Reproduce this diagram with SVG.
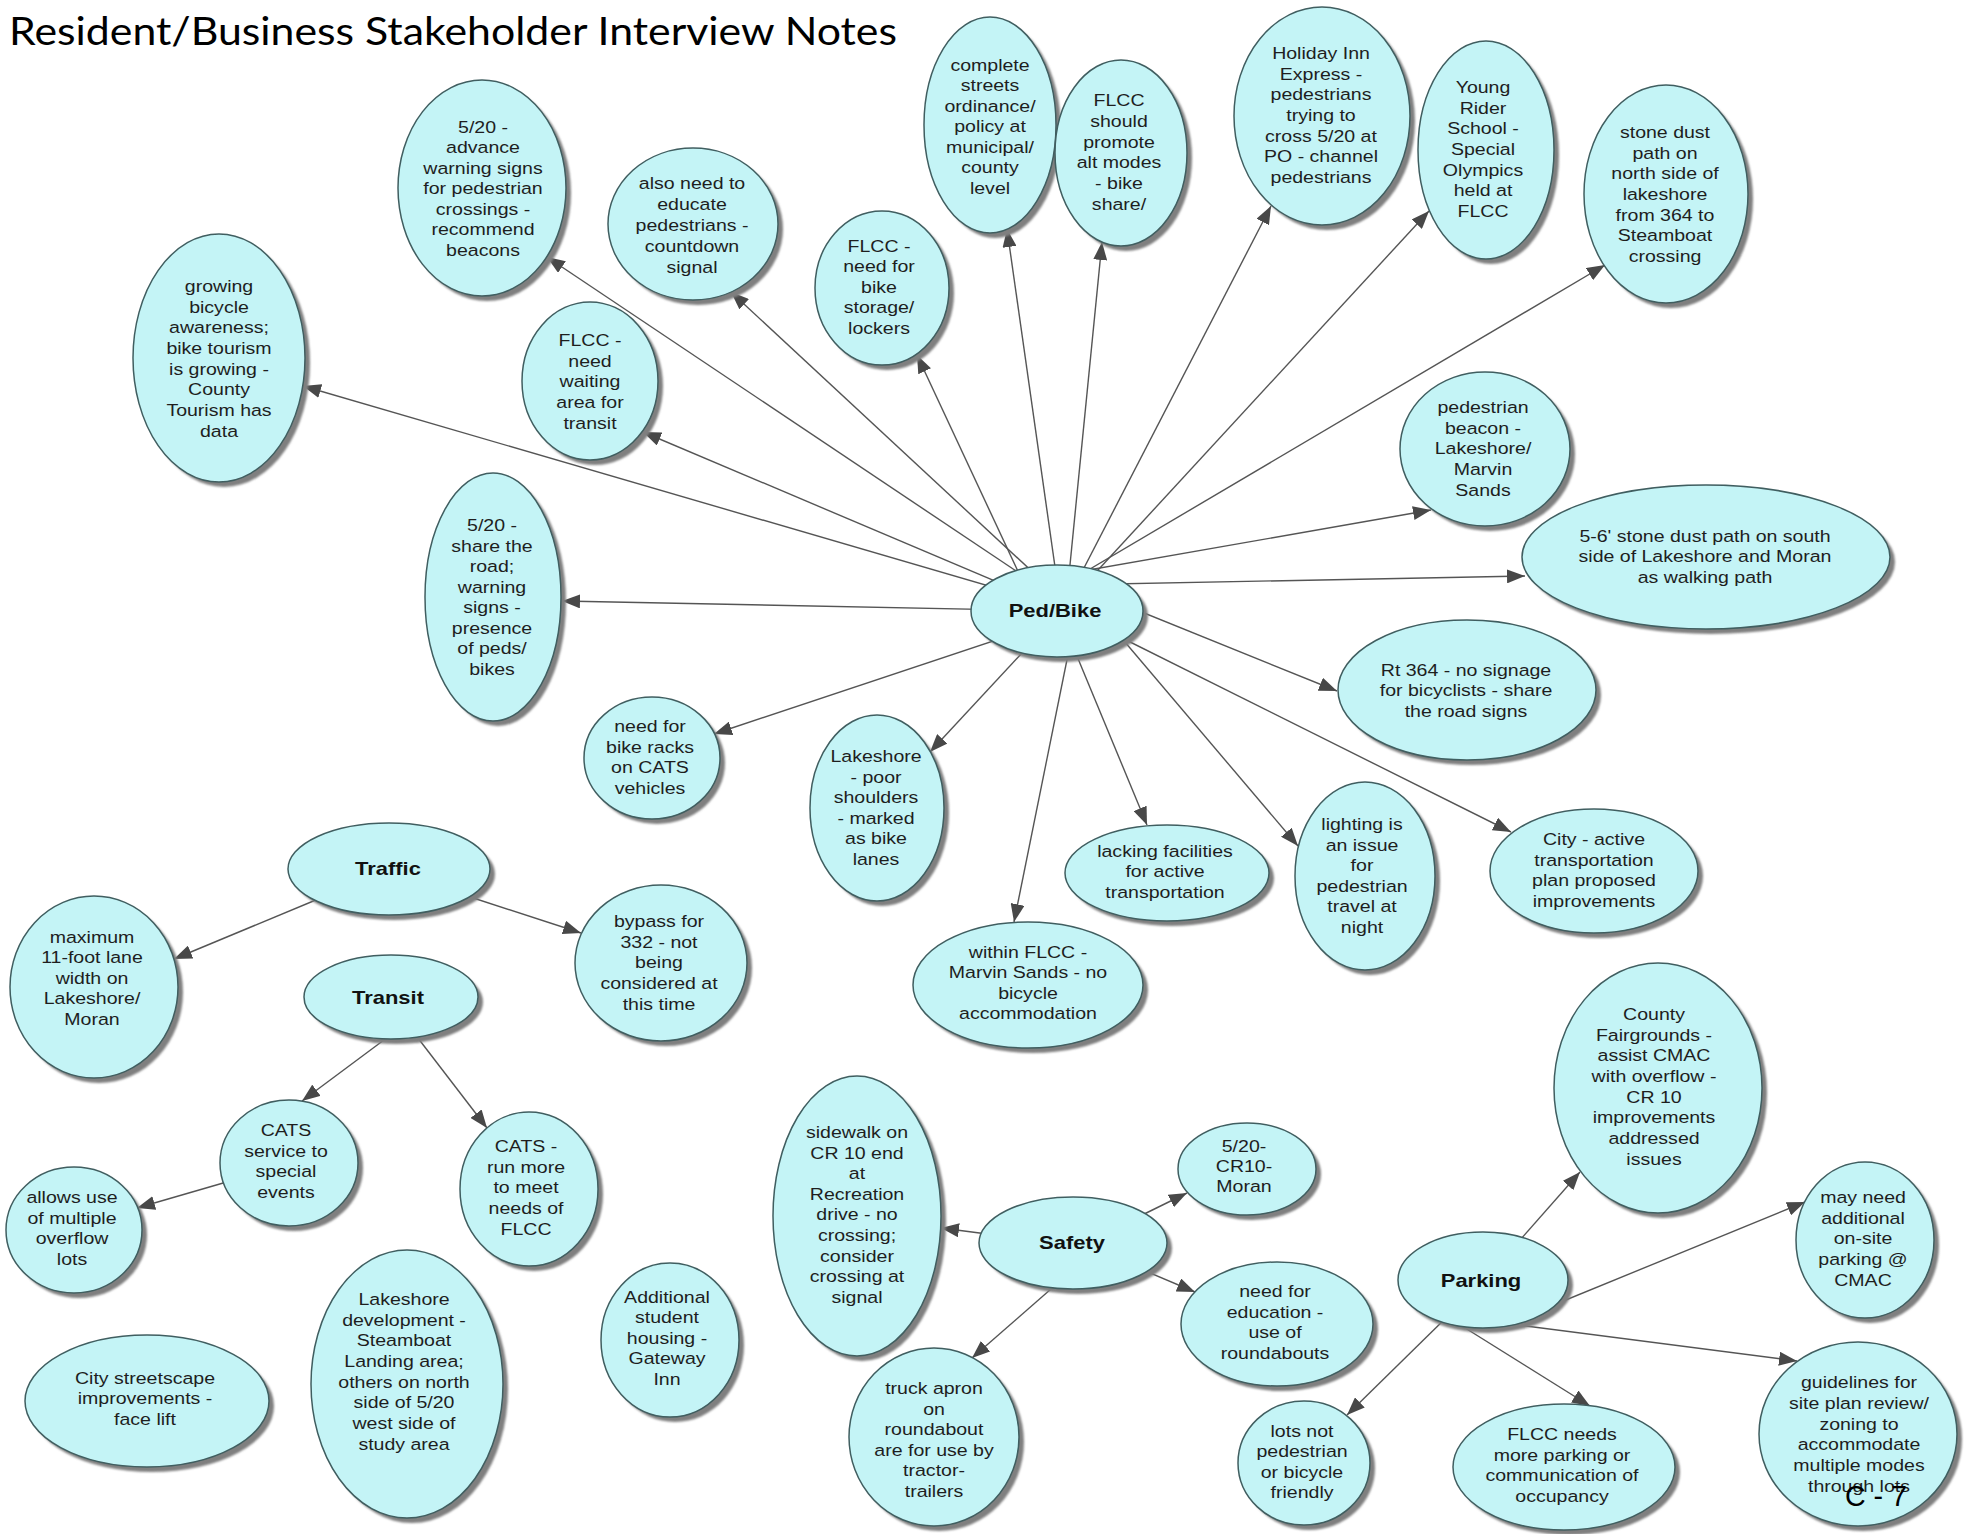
<svg xmlns="http://www.w3.org/2000/svg" width="1965" height="1534" viewBox="0 0 1965 1534">
<defs>
<filter id="blur" x="-10%" y="-10%" width="120%" height="120%"><feGaussianBlur stdDeviation="1.3"/></filter>
<marker id="ah" markerUnits="userSpaceOnUse" markerWidth="18" markerHeight="14" refX="18" refY="7" orient="auto" viewBox="0 0 18 14"><path d="M0,0 L18,7 L0,14 Z" fill="#484848"/></marker>
</defs>
<style>
.sh{fill:#7f7f7f;filter:url(#blur);transform:translate(1px,1px)}
.nd{fill:#c4f4f6;stroke:#405e60;stroke-width:1.5}
.t{font-family:"Liberation Sans",Arial,sans-serif;font-size:17px;fill:#1e1e1e;text-anchor:middle}
.b{font-weight:bold;font-size:18px;fill:#111}
.ln{stroke:#555;stroke-width:1.4;fill:none;marker-end:url(#ah)}
</style>
<rect width="1965" height="1534" fill="#ffffff"/>
<text x="9" y="45" font-family="Lato, 'Open Sans', sans-serif" font-size="39" textLength="888" lengthAdjust="spacingAndGlyphs" fill="#000">Resident/Business Stakeholder Interview Notes</text>

<g id="connectors">
<line class="ln" x1="1040" y1="587" x2="547" y2="257"/>
<line class="ln" x1="1052" y1="590" x2="731" y2="292"/>
<line class="ln" x1="1030" y1="598" x2="303" y2="386"/>
<line class="ln" x1="1040" y1="600" x2="643" y2="432"/>
<line class="ln" x1="1029" y1="595" x2="917" y2="355"/>
<line class="ln" x1="1059" y1="595" x2="1007" y2="229"/>
<line class="ln" x1="1067" y1="595" x2="1102" y2="242"/>
<line class="ln" x1="1070" y1="595" x2="1271" y2="206"/>
<line class="ln" x1="1075" y1="595" x2="1429" y2="211"/>
<line class="ln" x1="1046" y1="595" x2="1605" y2="265"/>
<line class="ln" x1="1060" y1="575" x2="1431" y2="510"/>
<line class="ln" x1="1060" y1="585" x2="1525" y2="576"/>
<line class="ln" x1="1060" y1="611" x2="562" y2="601"/>
<line class="ln" x1="1070" y1="583" x2="1337" y2="691"/>
<line class="ln" x1="1050" y1="622" x2="714" y2="734"/>
<line class="ln" x1="1048" y1="625" x2="930" y2="752"/>
<line class="ln" x1="1062" y1="620" x2="1147" y2="825"/>
<line class="ln" x1="1102" y1="615" x2="1298" y2="846"/>
<line class="ln" x1="1100" y1="627" x2="1511" y2="832"/>
<line class="ln" x1="1074" y1="625" x2="1014" y2="922"/>
<line class="ln" x1="323" y1="897" x2="174" y2="959"/>
<line class="ln" x1="458" y1="893" x2="581" y2="933"/>
<line class="ln" x1="392" y1="1034" x2="302" y2="1101"/>
<line class="ln" x1="411" y1="1029" x2="487" y2="1128"/>
<line class="ln" x1="237" y1="1179" x2="137" y2="1208"/>
<line class="ln" x1="995" y1="1235" x2="941" y2="1228"/>
<line class="ln" x1="1132" y1="1220" x2="1187" y2="1193"/>
<line class="ln" x1="1136" y1="1267" x2="1195" y2="1292"/>
<line class="ln" x1="1059" y1="1282" x2="972" y2="1358"/>
<line class="ln" x1="1513" y1="1248" x2="1580" y2="1172"/>
<line class="ln" x1="1534" y1="1313" x2="1805" y2="1202"/>
<line class="ln" x1="1451" y1="1313" x2="1347" y2="1415"/>
<line class="ln" x1="1454" y1="1321" x2="1590" y2="1406"/>
<line class="ln" x1="1510" y1="1324" x2="1797" y2="1361"/>
</g>

<g id="n-pedbike"><ellipse class="sh" cx="1061" cy="615" rx="86" ry="46"/><ellipse class="nd" cx="1057" cy="611" rx="86" ry="46"/><text class="t b" transform="translate(1055 0) scale(1.22 1)"><tspan x="0" y="617">Ped/Bike</tspan></text></g>

<g id="n-advance"><ellipse class="sh" cx="486" cy="192" rx="84" ry="108"/><ellipse class="nd" cx="482" cy="188" rx="84" ry="108"/><text class="t" transform="translate(483 0) scale(1.15 1)"><tspan x="0" y="133">5/20 -</tspan><tspan x="0" y="153.5">advance</tspan><tspan x="0" y="174">warning signs</tspan><tspan x="0" y="194.5">for pedestrian</tspan><tspan x="0" y="215">crossings -</tspan><tspan x="0" y="235.5">recommend</tspan><tspan x="0" y="256">beacons</tspan></text></g>

<g id="n-educate"><ellipse class="sh" cx="697" cy="228" rx="85" ry="76"/><ellipse class="nd" cx="693" cy="224" rx="85" ry="76"/><text class="t" transform="translate(692 0) scale(1.15 1)"><tspan x="0" y="189">also need to</tspan><tspan x="0" y="210">educate</tspan><tspan x="0" y="231">pedestrians -</tspan><tspan x="0" y="252">countdown</tspan><tspan x="0" y="273">signal</tspan></text></g>

<g id="n-growing"><ellipse class="sh" cx="223" cy="362" rx="86" ry="124"/><ellipse class="nd" cx="219" cy="358" rx="86" ry="124"/><text class="t" transform="translate(219 0) scale(1.15 1)"><tspan x="0" y="292">growing</tspan><tspan x="0" y="312.7">bicycle</tspan><tspan x="0" y="333.4">awareness;</tspan><tspan x="0" y="354.1">bike tourism</tspan><tspan x="0" y="374.8">is growing -</tspan><tspan x="0" y="395.5">County</tspan><tspan x="0" y="416.2">Tourism has</tspan><tspan x="0" y="437">data</tspan></text></g>

<g id="n-waiting"><ellipse class="sh" cx="594" cy="385" rx="68" ry="79"/><ellipse class="nd" cx="590" cy="381" rx="68" ry="79"/><text class="t" transform="translate(590 0) scale(1.15 1)"><tspan x="0" y="346">FLCC -</tspan><tspan x="0" y="366.8">need</tspan><tspan x="0" y="387.5">waiting</tspan><tspan x="0" y="408.3">area for</tspan><tspan x="0" y="429">transit</tspan></text></g>

<g id="n-storage"><ellipse class="sh" cx="886" cy="292" rx="67" ry="77"/><ellipse class="nd" cx="882" cy="288" rx="67" ry="77"/><text class="t" transform="translate(879 0) scale(1.15 1)"><tspan x="0" y="252">FLCC -</tspan><tspan x="0" y="272.5">need for</tspan><tspan x="0" y="293">bike</tspan><tspan x="0" y="313.5">storage/</tspan><tspan x="0" y="334">lockers</tspan></text></g>

<g id="n-complete"><ellipse class="sh" cx="994" cy="129" rx="66" ry="108"/><ellipse class="nd" cx="990" cy="125" rx="66" ry="108"/><text class="t" transform="translate(990 0) scale(1.15 1)"><tspan x="0" y="71">complete</tspan><tspan x="0" y="91.5">streets</tspan><tspan x="0" y="112">ordinance/</tspan><tspan x="0" y="132.5">policy at</tspan><tspan x="0" y="153">municipal/</tspan><tspan x="0" y="173.5">county</tspan><tspan x="0" y="194">level</tspan></text></g>

<g id="n-promote"><ellipse class="sh" cx="1125" cy="157" rx="66" ry="93"/><ellipse class="nd" cx="1121" cy="153" rx="66" ry="93"/><text class="t" transform="translate(1119 0) scale(1.15 1)"><tspan x="0" y="106">FLCC</tspan><tspan x="0" y="126.8">should</tspan><tspan x="0" y="147.6">promote</tspan><tspan x="0" y="168.4">alt modes</tspan><tspan x="0" y="189.2">- bike</tspan><tspan x="0" y="210">share/</tspan></text></g>

<g id="n-holiday"><ellipse class="sh" cx="1326" cy="120" rx="88" ry="109"/><ellipse class="nd" cx="1322" cy="116" rx="88" ry="109"/><text class="t" transform="translate(1321 0) scale(1.15 1)"><tspan x="0" y="59">Holiday Inn</tspan><tspan x="0" y="79.7">Express -</tspan><tspan x="0" y="100.3">pedestrians</tspan><tspan x="0" y="121">trying to</tspan><tspan x="0" y="141.7">cross 5/20 at</tspan><tspan x="0" y="162.3">PO - channel</tspan><tspan x="0" y="183">pedestrians</tspan></text></g>

<g id="n-young"><ellipse class="sh" cx="1490" cy="154" rx="68" ry="109"/><ellipse class="nd" cx="1486" cy="150" rx="68" ry="109"/><text class="t" transform="translate(1483 0) scale(1.15 1)"><tspan x="0" y="93">Young</tspan><tspan x="0" y="113.7">Rider</tspan><tspan x="0" y="134.3">School -</tspan><tspan x="0" y="155">Special</tspan><tspan x="0" y="175.7">Olympics</tspan><tspan x="0" y="196.3">held at</tspan><tspan x="0" y="217">FLCC</tspan></text></g>

<g id="n-dustnorth"><ellipse class="sh" cx="1670" cy="198" rx="82" ry="109"/><ellipse class="nd" cx="1666" cy="194" rx="82" ry="109"/><text class="t" transform="translate(1665 0) scale(1.15 1)"><tspan x="0" y="138">stone dust</tspan><tspan x="0" y="158.7">path on</tspan><tspan x="0" y="179.3">north side of</tspan><tspan x="0" y="200">lakeshore</tspan><tspan x="0" y="220.7">from 364 to</tspan><tspan x="0" y="241.3">Steamboat</tspan><tspan x="0" y="262">crossing</tspan></text></g>

<g id="n-beacon"><ellipse class="sh" cx="1489" cy="453" rx="85" ry="77"/><ellipse class="nd" cx="1485" cy="449" rx="85" ry="77"/><text class="t" transform="translate(1483 0) scale(1.15 1)"><tspan x="0" y="413">pedestrian</tspan><tspan x="0" y="433.8">beacon -</tspan><tspan x="0" y="454.5">Lakeshore/</tspan><tspan x="0" y="475.3">Marvin</tspan><tspan x="0" y="496">Sands</tspan></text></g>

<g id="n-dustsouth"><ellipse class="sh" cx="1710" cy="561" rx="184" ry="72"/><ellipse class="nd" cx="1706" cy="557" rx="184" ry="72"/><text class="t" transform="translate(1705 0) scale(1.15 1)"><tspan x="0" y="542">5-6' stone dust path on south</tspan><tspan x="0" y="562.5">side of Lakeshore and Moran</tspan><tspan x="0" y="583">as walking path</tspan></text></g>

<g id="n-share"><ellipse class="sh" cx="497" cy="601" rx="68" ry="124"/><ellipse class="nd" cx="493" cy="597" rx="68" ry="124"/><text class="t" transform="translate(492 0) scale(1.15 1)"><tspan x="0" y="531">5/20 -</tspan><tspan x="0" y="551.6">share the</tspan><tspan x="0" y="572.1">road;</tspan><tspan x="0" y="592.7">warning</tspan><tspan x="0" y="613.3">signs -</tspan><tspan x="0" y="633.9">presence</tspan><tspan x="0" y="654.4">of peds/</tspan><tspan x="0" y="675">bikes</tspan></text></g>

<g id="n-rt364"><ellipse class="sh" cx="1471" cy="694" rx="129" ry="70"/><ellipse class="nd" cx="1467" cy="690" rx="129" ry="70"/><text class="t" transform="translate(1466 0) scale(1.15 1)"><tspan x="0" y="676">Rt 364 - no signage</tspan><tspan x="0" y="696.5">for bicyclists - share</tspan><tspan x="0" y="717">the road signs</tspan></text></g>

<g id="n-racks"><ellipse class="sh" cx="656" cy="762" rx="68" ry="61"/><ellipse class="nd" cx="652" cy="758" rx="68" ry="61"/><text class="t" transform="translate(650 0) scale(1.15 1)"><tspan x="0" y="732">need for</tspan><tspan x="0" y="752.7">bike racks</tspan><tspan x="0" y="773.3">on CATS</tspan><tspan x="0" y="794">vehicles</tspan></text></g>

<g id="n-shoulders"><ellipse class="sh" cx="881" cy="812" rx="67" ry="93"/><ellipse class="nd" cx="877" cy="808" rx="67" ry="93"/><text class="t" transform="translate(876 0) scale(1.15 1)"><tspan x="0" y="762">Lakeshore</tspan><tspan x="0" y="782.6">- poor</tspan><tspan x="0" y="803.2">shoulders</tspan><tspan x="0" y="823.8">- marked</tspan><tspan x="0" y="844.4">as bike</tspan><tspan x="0" y="865">lanes</tspan></text></g>

<g id="n-lacking"><ellipse class="sh" cx="1171" cy="877" rx="102" ry="48"/><ellipse class="nd" cx="1167" cy="873" rx="102" ry="48"/><text class="t" transform="translate(1165 0) scale(1.15 1)"><tspan x="0" y="857">lacking facilities</tspan><tspan x="0" y="877.5">for active</tspan><tspan x="0" y="898">transportation</tspan></text></g>

<g id="n-lighting"><ellipse class="sh" cx="1369" cy="880" rx="70" ry="94"/><ellipse class="nd" cx="1365" cy="876" rx="70" ry="94"/><text class="t" transform="translate(1362 0) scale(1.15 1)"><tspan x="0" y="830">lighting is</tspan><tspan x="0" y="850.6">an issue</tspan><tspan x="0" y="871.2">for</tspan><tspan x="0" y="891.8">pedestrian</tspan><tspan x="0" y="912.4">travel at</tspan><tspan x="0" y="933">night</tspan></text></g>

<g id="n-cityplan"><ellipse class="sh" cx="1598" cy="875" rx="104" ry="62"/><ellipse class="nd" cx="1594" cy="871" rx="104" ry="62"/><text class="t" transform="translate(1594 0) scale(1.15 1)"><tspan x="0" y="845">City - active</tspan><tspan x="0" y="865.7">transportation</tspan><tspan x="0" y="886.3">plan proposed</tspan><tspan x="0" y="907">improvements</tspan></text></g>

<g id="n-within"><ellipse class="sh" cx="1032" cy="989" rx="115" ry="63"/><ellipse class="nd" cx="1028" cy="985" rx="115" ry="63"/><text class="t" transform="translate(1028 0) scale(1.15 1)"><tspan x="0" y="958">within FLCC -</tspan><tspan x="0" y="978.3">Marvin Sands - no</tspan><tspan x="0" y="998.7">bicycle</tspan><tspan x="0" y="1019">accommodation</tspan></text></g>

<g id="n-traffic"><ellipse class="sh" cx="393" cy="873" rx="101" ry="46"/><ellipse class="nd" cx="389" cy="869" rx="101" ry="46"/><text class="t b" transform="translate(388 0) scale(1.22 1)"><tspan x="0" y="875">Traffic</tspan></text></g>

<g id="n-maxlane"><ellipse class="sh" cx="98" cy="991" rx="84" ry="91"/><ellipse class="nd" cx="94" cy="987" rx="84" ry="91"/><text class="t" transform="translate(92 0) scale(1.15 1)"><tspan x="0" y="943">maximum</tspan><tspan x="0" y="963.5">11-foot lane</tspan><tspan x="0" y="984">width on</tspan><tspan x="0" y="1004.5">Lakeshore/</tspan><tspan x="0" y="1025">Moran</tspan></text></g>

<g id="n-bypass"><ellipse class="sh" cx="665" cy="967" rx="86" ry="78"/><ellipse class="nd" cx="661" cy="963" rx="86" ry="78"/><text class="t" transform="translate(659 0) scale(1.15 1)"><tspan x="0" y="927">bypass for</tspan><tspan x="0" y="947.8">332 - not</tspan><tspan x="0" y="968.5">being</tspan><tspan x="0" y="989.3">considered at</tspan><tspan x="0" y="1010">this time</tspan></text></g>

<g id="n-transit"><ellipse class="sh" cx="395" cy="1001" rx="87" ry="42"/><ellipse class="nd" cx="391" cy="997" rx="87" ry="42"/><text class="t b" transform="translate(388 0) scale(1.22 1)"><tspan x="0" y="1004">Transit</tspan></text></g>

<g id="n-cats-events"><ellipse class="sh" cx="293" cy="1167" rx="69" ry="63"/><ellipse class="nd" cx="289" cy="1163" rx="69" ry="63"/><text class="t" transform="translate(286 0) scale(1.15 1)"><tspan x="0" y="1136">CATS</tspan><tspan x="0" y="1156.7">service to</tspan><tspan x="0" y="1177.3">special</tspan><tspan x="0" y="1198">events</tspan></text></g>

<g id="n-cats-more"><ellipse class="sh" cx="533" cy="1193" rx="69" ry="77"/><ellipse class="nd" cx="529" cy="1189" rx="69" ry="77"/><text class="t" transform="translate(526 0) scale(1.15 1)"><tspan x="0" y="1152">CATS -</tspan><tspan x="0" y="1172.8">run more</tspan><tspan x="0" y="1193.5">to meet</tspan><tspan x="0" y="1214.3">needs of</tspan><tspan x="0" y="1235">FLCC</tspan></text></g>

<g id="n-allows"><ellipse class="sh" cx="78" cy="1234" rx="68" ry="63"/><ellipse class="nd" cx="74" cy="1230" rx="68" ry="63"/><text class="t" transform="translate(72 0) scale(1.15 1)"><tspan x="0" y="1203">allows use</tspan><tspan x="0" y="1223.7">of multiple</tspan><tspan x="0" y="1244.3">overflow</tspan><tspan x="0" y="1265">lots</tspan></text></g>

<g id="n-streetscape"><ellipse class="sh" cx="151" cy="1405" rx="122" ry="66"/><ellipse class="nd" cx="147" cy="1401" rx="122" ry="66"/><text class="t" transform="translate(145 0) scale(1.15 1)"><tspan x="0" y="1384">City streetscape</tspan><tspan x="0" y="1404.5">improvements -</tspan><tspan x="0" y="1425">face lift</tspan></text></g>

<g id="n-lakedev"><ellipse class="sh" cx="411" cy="1388" rx="96" ry="134"/><ellipse class="nd" cx="407" cy="1384" rx="96" ry="134"/><text class="t" transform="translate(404 0) scale(1.15 1)"><tspan x="0" y="1305">Lakeshore</tspan><tspan x="0" y="1325.7">development -</tspan><tspan x="0" y="1346.4">Steamboat</tspan><tspan x="0" y="1367.1">Landing area;</tspan><tspan x="0" y="1387.8">others on north</tspan><tspan x="0" y="1408.5">side of 5/20</tspan><tspan x="0" y="1429.2">west side of</tspan><tspan x="0" y="1450">study area</tspan></text></g>

<g id="n-housing"><ellipse class="sh" cx="674" cy="1344" rx="69" ry="77"/><ellipse class="nd" cx="670" cy="1340" rx="69" ry="77"/><text class="t" transform="translate(667 0) scale(1.15 1)"><tspan x="0" y="1303">Additional</tspan><tspan x="0" y="1323.5">student</tspan><tspan x="0" y="1344">housing -</tspan><tspan x="0" y="1364.5">Gateway</tspan><tspan x="0" y="1385">Inn</tspan></text></g>

<g id="n-safety"><ellipse class="sh" cx="1077" cy="1247" rx="94" ry="46"/><ellipse class="nd" cx="1073" cy="1243" rx="94" ry="46"/><text class="t b" transform="translate(1072 0) scale(1.22 1)"><tspan x="0" y="1249">Safety</tspan></text></g>

<g id="n-sidewalk"><ellipse class="sh" cx="861" cy="1220" rx="84" ry="140"/><ellipse class="nd" cx="857" cy="1216" rx="84" ry="140"/><text class="t" transform="translate(857 0) scale(1.15 1)"><tspan x="0" y="1138">sidewalk on</tspan><tspan x="0" y="1158.6">CR 10 end</tspan><tspan x="0" y="1179.3">at</tspan><tspan x="0" y="1199.9">Recreation</tspan><tspan x="0" y="1220.5">drive - no</tspan><tspan x="0" y="1241.1">crossing;</tspan><tspan x="0" y="1261.8">consider</tspan><tspan x="0" y="1282.4">crossing at</tspan><tspan x="0" y="1303">signal</tspan></text></g>

<g id="n-truck"><ellipse class="sh" cx="938" cy="1441" rx="85" ry="89"/><ellipse class="nd" cx="934" cy="1437" rx="85" ry="89"/><text class="t" transform="translate(934 0) scale(1.15 1)"><tspan x="0" y="1394">truck apron</tspan><tspan x="0" y="1414.6">on</tspan><tspan x="0" y="1435.2">roundabout</tspan><tspan x="0" y="1455.8">are for use by</tspan><tspan x="0" y="1476.4">tractor-</tspan><tspan x="0" y="1497">trailers</tspan></text></g>

<g id="n-moran"><ellipse class="sh" cx="1251" cy="1173" rx="69" ry="46"/><ellipse class="nd" cx="1247" cy="1169" rx="69" ry="46"/><text class="t" transform="translate(1244 0) scale(1.15 1)"><tspan x="0" y="1152">5/20-</tspan><tspan x="0" y="1172">CR10-</tspan><tspan x="0" y="1192">Moran</tspan></text></g>

<g id="n-education"><ellipse class="sh" cx="1281" cy="1328" rx="96" ry="62"/><ellipse class="nd" cx="1277" cy="1324" rx="96" ry="62"/><text class="t" transform="translate(1275 0) scale(1.15 1)"><tspan x="0" y="1297">need for</tspan><tspan x="0" y="1317.7">education -</tspan><tspan x="0" y="1338.3">use of</tspan><tspan x="0" y="1359">roundabouts</tspan></text></g>

<g id="n-parking"><ellipse class="sh" cx="1487" cy="1284" rx="85" ry="48"/><ellipse class="nd" cx="1483" cy="1280" rx="85" ry="48"/><text class="t b" transform="translate(1481 0) scale(1.22 1)"><tspan x="0" y="1287">Parking</tspan></text></g>

<g id="n-county"><ellipse class="sh" cx="1662" cy="1092" rx="104" ry="125"/><ellipse class="nd" cx="1658" cy="1088" rx="104" ry="125"/><text class="t" transform="translate(1654 0) scale(1.15 1)"><tspan x="0" y="1020">County</tspan><tspan x="0" y="1040.7">Fairgrounds -</tspan><tspan x="0" y="1061.4">assist CMAC</tspan><tspan x="0" y="1082.1">with overflow -</tspan><tspan x="0" y="1102.8">CR 10</tspan><tspan x="0" y="1123.5">improvements</tspan><tspan x="0" y="1144.2">addressed</tspan><tspan x="0" y="1165">issues</tspan></text></g>

<g id="n-mayneed"><ellipse class="sh" cx="1869" cy="1244" rx="69" ry="78"/><ellipse class="nd" cx="1865" cy="1240" rx="69" ry="78"/><text class="t" transform="translate(1863 0) scale(1.15 1)"><tspan x="0" y="1203">may need</tspan><tspan x="0" y="1223.8">additional</tspan><tspan x="0" y="1244.5">on-site</tspan><tspan x="0" y="1265.3">parking @</tspan><tspan x="0" y="1286">CMAC</tspan></text></g>

<g id="n-lots"><ellipse class="sh" cx="1308" cy="1467" rx="66" ry="62"/><ellipse class="nd" cx="1304" cy="1463" rx="66" ry="62"/><text class="t" transform="translate(1302 0) scale(1.15 1)"><tspan x="0" y="1437">lots not</tspan><tspan x="0" y="1457.3">pedestrian</tspan><tspan x="0" y="1477.7">or bicycle</tspan><tspan x="0" y="1498">friendly</tspan></text></g>

<g id="n-flccneeds"><ellipse class="sh" cx="1568" cy="1471" rx="111" ry="63"/><ellipse class="nd" cx="1564" cy="1467" rx="111" ry="63"/><text class="t" transform="translate(1562 0) scale(1.15 1)"><tspan x="0" y="1440">FLCC needs</tspan><tspan x="0" y="1460.7">more parking or</tspan><tspan x="0" y="1481.3">communication of</tspan><tspan x="0" y="1502">occupancy</tspan></text></g>

<g id="n-guidelines"><ellipse class="sh" cx="1862" cy="1438" rx="99" ry="92"/><ellipse class="nd" cx="1858" cy="1434" rx="99" ry="92"/><text class="t" transform="translate(1859 0) scale(1.15 1)"><tspan x="0" y="1388">guidelines for</tspan><tspan x="0" y="1408.8">site plan review/</tspan><tspan x="0" y="1429.6">zoning to</tspan><tspan x="0" y="1450.4">accommodate</tspan><tspan x="0" y="1471.2">multiple modes</tspan><tspan x="0" y="1492">through lots</tspan></text></g>

<text x="1845" y="1506" font-family="'Liberation Sans', Arial, sans-serif" font-size="29" textLength="62" lengthAdjust="spacingAndGlyphs" fill="#000">C - 7</text>
</svg>
